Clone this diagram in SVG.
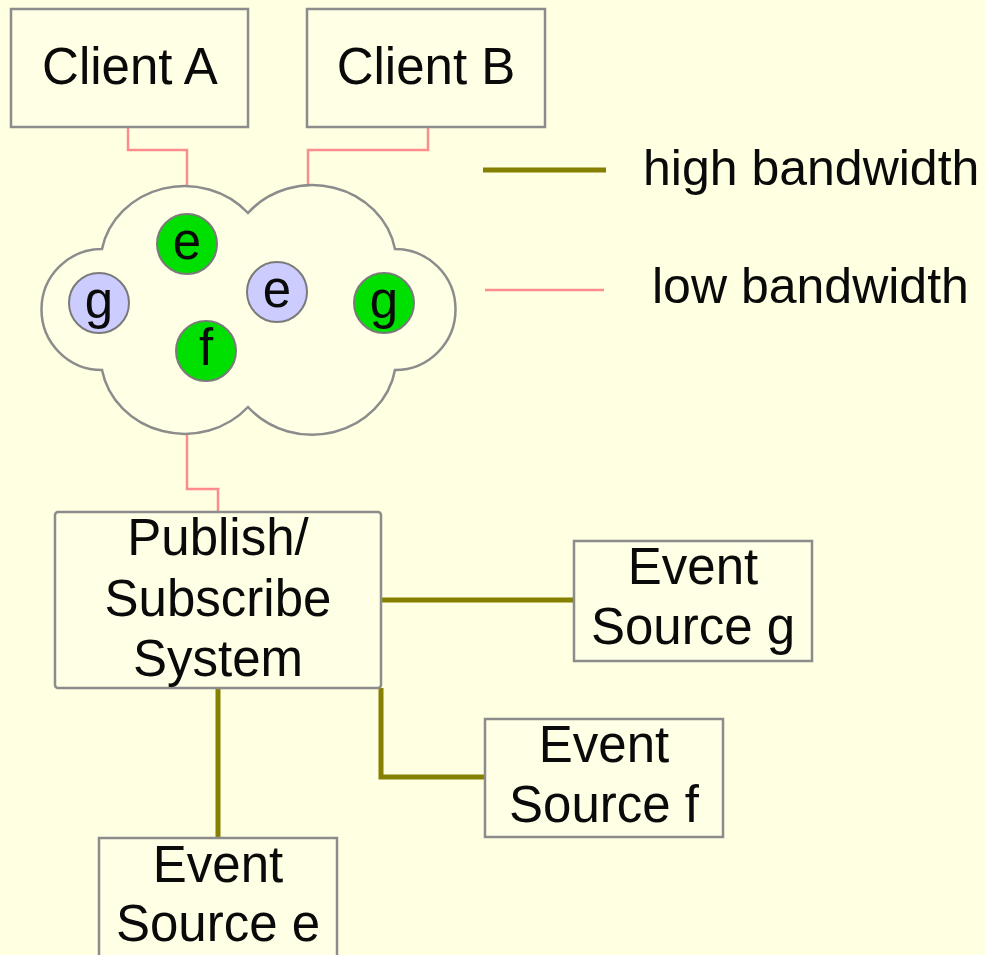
<svg xmlns="http://www.w3.org/2000/svg" width="985" height="955" viewBox="0 0 985 955">
<style>
.bg{fill:#ffffe2}
.box{fill:#ffffe6;stroke:#8c8c8c;stroke-width:2.5}
.cloud{fill:#ffffe6;stroke:#8c8c8c;stroke-width:2.5}
.t{font-family:"Liberation Sans",Arial,sans-serif;font-size:51px;fill:#0a0a0a;text-anchor:middle}
.tl{font-family:"Liberation Sans",Arial,sans-serif;font-size:50px;fill:#0a0a0a}
.hi{fill:none;stroke:#858000;stroke-width:5}
.lo{fill:none;stroke:#ff8c8c;stroke-width:2.5}
.green{fill:#00e000;stroke:#7a7a7a;stroke-width:2}
.lav{fill:#ccccff;stroke:#7a7a7a;stroke-width:2}
</style>
<rect class="bg" x="0" y="0" width="985" height="955"/>
<g id="connectors">
<path class="lo" d="M128,127 V150 H187 V187"/>
<path class="lo" d="M428,127 V150 H308 V187"/>
<path class="lo" d="M187,433 V489 H218 V512"/>
<path class="hi" d="M381,600 H574"/>
<path class="hi" d="M381,688 V777 H486"/>
<path class="hi" d="M218,688 V838"/>
</g>
<g id="legend">
<line class="hi" x1="483" y1="170" x2="606" y2="170"/>
<text class="tl" x="643" y="185">high bandwidth</text>
<line class="lo" x1="485" y1="290" x2="604" y2="290"/>
<text class="tl" x="652" y="303">low bandwidth</text>
</g>
<g id="clientA">
<rect class="box" x="11" y="9" width="237" height="118"/>
<text class="t" x="130" y="84">Client A</text>
</g>
<g id="clientB">
<rect class="box" x="307" y="9" width="238" height="118"/>
<text class="t" x="426" y="84">Client B</text>
</g>
<g id="cloud">
<path class="cloud" d="M248,213 A84,78 0 0 1 395,249 A60.5,60.5 0 0 1 395,370 A84,78 0 0 1 248,407 A84,78 0 0 1 102,370 A60.5,60.5 0 0 1 102,249 A84,78 0 0 1 248,213 Z"/>
</g>
<g id="circle-e-green">
<circle class="green" cx="187" cy="244" r="30"/>
<text class="t" x="187" y="259">e</text>
</g>
<g id="circle-g-lav">
<circle class="lav" cx="99" cy="303" r="30"/>
<text class="t" x="99" y="318">g</text>
</g>
<g id="circle-f-green">
<circle class="green" cx="206" cy="351" r="30"/>
<text class="t" x="206" y="365">f</text>
</g>
<g id="circle-e-lav">
<circle class="lav" cx="277" cy="292" r="30"/>
<text class="t" x="277" y="307">e</text>
</g>
<g id="circle-g-green">
<circle class="green" cx="384" cy="303" r="30"/>
<text class="t" x="384" y="318">g</text>
</g>
<g id="pubsub">
<rect class="box" x="55" y="512" width="326" height="176" rx="3"/>
<text class="t" x="218" y="555">Publish/</text>
<text class="t" x="218" y="616">Subscribe</text>
<text class="t" x="218" y="676">System</text>
</g>
<g id="sourceG">
<rect class="box" x="574" y="541" width="238" height="120"/>
<text class="t" x="693" y="584">Event</text>
<text class="t" x="693" y="644">Source g</text>
</g>
<g id="sourceF">
<rect class="box" x="485" y="719" width="238" height="118"/>
<text class="t" x="604" y="762">Event</text>
<text class="t" x="604" y="822">Source f</text>
</g>
<g id="sourceE">
<rect class="box" x="99" y="838" width="238" height="130"/>
<text class="t" x="218" y="882">Event</text>
<text class="t" x="218" y="941">Source e</text>
</g>
</svg>
